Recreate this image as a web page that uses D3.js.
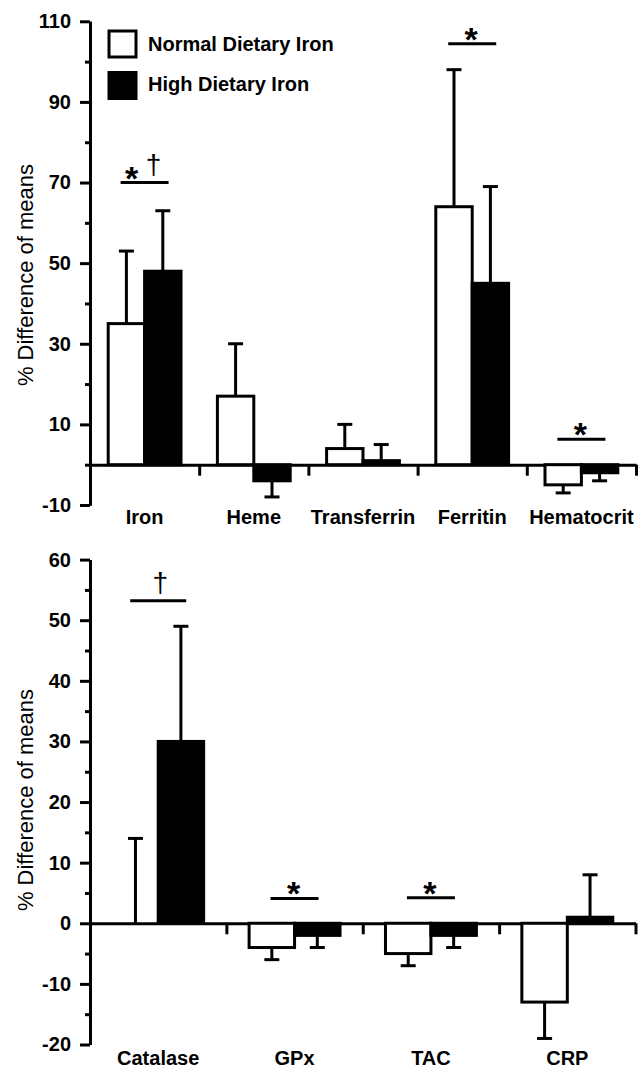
<!DOCTYPE html>
<html><head><meta charset="utf-8">
<script src="https://cdn.jsdelivr.net/npm/d3@7"></script>
<style>
body{margin:0;background:#fff}
svg{display:block}
text{font-family:"Liberation Sans",Arial,Helvetica,sans-serif;fill:#000}
</style>
</head><body>
<svg id="chart" width="644" height="1068"></svg>
<script>
// ---------- DATA ----------
const seriesNames = ["Normal Dietary Iron", "High Dietary Iron"];

const topCategories = ["Iron", "Heme", "Transferrin", "Ferritin", "Hematocrit"];
const topNormal    = [35, 17, 4, 64, -5];
const topNormalErr = [18, 13, 6, 34, 2];
const topHigh      = [48, -4, 1, 45, -2];
const topHighErr   = [15, 4, 4, 24, 2];
const topTicksMajor = [-10, 10, 30, 50, 70, 90, 110];
const topTicksMinor = [0, 20, 40, 60, 80, 100];
const topSignifCategory = ["Iron", "Ferritin", "Hematocrit"];
const topSignifValue    = [70, 104.4, 6.3];
const topSignifMarks    = [["*", "†"], ["*"], ["*"]];

const bottomCategories = ["Catalase", "GPx", "TAC", "CRP"];
const bottomNormal    = [0, -4, -5, -13];
const bottomNormalErr = [14, 2, 2, 6];
const bottomHigh      = [30, -2, -2, 1];
const bottomHighErr   = [19, 2, 2, 7];
const bottomTicksMajor = [-20, -10, 0, 10, 20, 30, 40, 50, 60];
const bottomTicksMinor = [-15, -5, 5, 15, 25, 35, 45, 55];
const bottomSignifCategory = ["Catalase", "GPx", "TAC"];
const bottomSignifValue    = [53.2, 4.1, 4.2];
const bottomSignifMarks    = [["†"], ["*"], ["*"]];

const yTitle = "% Difference of means";

// ---------- DRAW ----------
const svg = d3.select("#chart");
const fills = ["#fff", "#000"];
const SW = 3;

function drawPanel(p) {
  const n = p.categories.length;
  const x = d3.scaleBand().domain(p.categories).range(p.xRange).padding(0);
  const bw = x.bandwidth();
  const xs = d3.scaleBand().domain([0, 1]).range([bw / 6, bw * 5 / 6]).padding(0);
  const y = d3.scaleLinear().domain(p.yDomain).range(p.yRange);
  const g = svg.append("g");

  // y axis: minor then major
  const yMinor = g.append("g").attr("transform", `translate(${p.xRange[0]},0)`)
    .call(d3.axisLeft(y).tickValues(p.minor).tickSize(5).tickSizeOuter(0).tickFormat(""));
  const yMajor = g.append("g").attr("transform", `translate(${p.xRange[0]},0)`)
    .call(d3.axisLeft(y).tickValues(p.major).tickSize(10).tickPadding(9).tickSizeOuter(0).tickFormat(d => String(d)));
  [yMinor, yMajor].forEach(a => {
    a.select(".domain").attr("stroke", "#000").attr("stroke-width", SW);
    a.selectAll(".tick line").attr("stroke", "#000").attr("stroke-width", SW);
  });
  yMajor.selectAll(".tick text").attr("font-size", 20).attr("font-weight", "bold")
    .attr("font-family", '"Liberation Sans",Arial,sans-serif');

  // x axis along zero with ticks at band boundaries
  const xi = d3.scaleLinear().domain([0, n]).range(p.xRange);
  const xAx = g.append("g").attr("transform", `translate(0,${y(0)})`)
    .call(d3.axisBottom(xi).tickValues(d3.range(1, n + 1)).tickSize(11).tickSizeOuter(0).tickFormat(""));
  xAx.select(".domain").attr("stroke", "#000").attr("stroke-width", SW);
  xAx.selectAll(".tick line").attr("stroke", "#000").attr("stroke-width", SW);

  // bars
  const series = [[p.normal, p.normalErr], [p.high, p.highErr]];
  series.forEach(([vals, errs], s) => {
    const data = p.categories.map((c, i) => ({ c, v: vals[i], e: errs[i] }));
    const grp = g.append("g");
    grp.selectAll("rect").data(data).join("rect")
      .attr("x", d => x(d.c) + xs(s))
      .attr("width", xs.bandwidth())
      .attr("y", d => y(Math.max(0, d.v)))
      .attr("height", d => Math.abs(y(d.v) - y(0)))
      .attr("fill", fills[s]).attr("stroke", "#000").attr("stroke-width", SW);
    const eg = grp.selectAll("g.err").data(data).join("g").attr("class", "err");
    const cx = d => x(d.c) + xs(s) + xs.bandwidth() / 2;
    const end = d => d.v + (d.v < 0 ? -1 : 1) * d.e;
    eg.append("line")
      .attr("x1", cx).attr("x2", cx)
      .attr("y1", d => y(d.v)).attr("y2", d => y(end(d)))
      .attr("stroke", "#000").attr("stroke-width", SW);
    eg.append("line")
      .attr("x1", d => cx(d) - 7.5).attr("x2", d => cx(d) + 7.5)
      .attr("y1", d => y(end(d))).attr("y2", d => y(end(d)))
      .attr("stroke", "#000").attr("stroke-width", SW);
  });

  // significance markers
  p.sigCats.forEach((c, i) => {
    const cxm = x(c) + bw / 2;
    const yy = y(p.sigVals[i]);
    const half = c === "Catalase" ? 28 : 24;
    g.append("line").attr("x1", cxm - half).attr("x2", cxm + half)
      .attr("y1", yy).attr("y2", yy).attr("stroke", "#000").attr("stroke-width", SW);
    const marks = p.sigMarks[i];
    marks.forEach((m, j) => {
      const off = marks.length > 1 ? (j === 0 ? -13 : 9) : (m === "†" ? 2 : -1);
      if (m === "*") {
        g.append("text").attr("x", cxm + off).attr("y", yy + 7)
          .attr("text-anchor", "middle").attr("font-size", 34).attr("font-weight", "bold").text(m);
      } else {
        g.append("text").attr("x", cxm + off).attr("y", yy - 9)
          .attr("text-anchor", "middle").attr("font-size", 28).text(m);
      }
    });
  });

  // category labels
  g.selectAll("text.cat").data(p.categories).join("text").attr("class", "cat")
    .attr("x", d => x(d) + bw / 2).attr("y", p.labelY)
    .attr("text-anchor", "middle").attr("font-size", 20).attr("font-weight", "bold")
    .text(d => d);

  // y title
  g.append("text").attr("transform", `translate(33,${p.titleY}) rotate(-90)`)
    .attr("text-anchor", "middle").attr("font-size", 22).text(yTitle);
  return { x, y };
}

drawPanel({
  categories: topCategories, normal: topNormal, normalErr: topNormalErr,
  high: topHigh, highErr: topHighErr, major: topTicksMajor, minor: topTicksMinor,
  sigCats: topSignifCategory, sigVals: topSignifValue, sigMarks: topSignifMarks,
  xRange: [90, 636], yDomain: [-10, 110], yRange: [505, 21.3], labelY: 524, titleY: 275
});

drawPanel({
  categories: bottomCategories, normal: bottomNormal, normalErr: bottomNormalErr,
  high: bottomHigh, highErr: bottomHighErr, major: bottomTicksMajor, minor: bottomTicksMinor,
  sigCats: bottomSignifCategory, sigVals: bottomSignifValue, sigMarks: bottomSignifMarks,
  xRange: [90, 635.5], yDomain: [-20, 60], yRange: [1044.5, 559.6], labelY: 1065, titleY: 800
});

// legend
const lg = svg.append("g").attr("transform", "translate(109,31)");
seriesNames.forEach((name, i) => {
  lg.append("rect").attr("x", 0).attr("y", i * 41.5).attr("width", 27).attr("height", 26)
    .attr("fill", fills[i]).attr("stroke", "#000").attr("stroke-width", SW);
  lg.append("text").attr("x", 39).attr("y", i * 40 + 19.5)
    .attr("font-size", 20).attr("font-weight", "bold").text(name);
});
</script>
</body></html>
